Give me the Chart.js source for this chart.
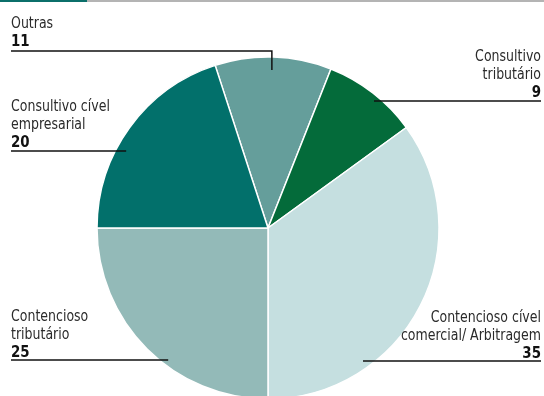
<!DOCTYPE html>
<html>
<head>
<meta charset="utf-8">
<script src="https://cdn.jsdelivr.net/npm/chart.js@4.4.1/dist/chart.umd.min.js"></script>
<style>
  html,body{margin:0;padding:0;background:#fff;overflow:hidden}
  #wrap{position:relative;width:544px;height:456px}
  #topbar{position:absolute;left:0;top:0;width:544px;height:2px;background:#b4b4b4}
  #topbar span{position:absolute;left:0;top:0;width:87px;height:2px;background:#0b6f6a}
</style>
</head>
<body>
<div id="wrap">
  <canvas id="pie" width="544" height="456"></canvas>
  <div id="topbar"><span></span></div>
</div>
<script>
// data, in drawing order clockwise from the top
const categories = ['Outras', 'Consultivo tributário', 'Contencioso cível comercial/ Arbitragem', 'Contencioso tributário', 'Consultivo cível empresarial'];
const shares = [11, 9, 35, 25, 20];
const colors = ['#659e9b', '#046b3a', '#c5dfe0', '#93bab8', '#02706b'];

// label text lines + where each label sits and where its leader touches the slice
const labelLines = [
  ['Outras'],
  ['Consultivo', 'tributário'],
  ['Contencioso cível', 'comercial/ Arbitragem'],
  ['Contencioso', 'tributário'],
  ['Consultivo cível', 'empresarial']
];
const labelLayout = [
  {x: 11,  y: 28,  align: 'left',  lineY: 51,  lineX: 11,  elbow: true, frac: 0.49, rr: 0.924},
  {x: 541, y: 61,  align: 'right', lineY: 101, lineX: 541, frac: 0.556, rr: 0.972},
  {x: 541, y: 322, align: 'right', lineY: 361, lineX: 541, frac: 0.718, rr: 0.956},
  {x: 11,  y: 321, align: 'left',  lineY: 360, lineX: 11,  frac: 0.412, rr: 0.968},
  {x: 11,  y: 111, align: 'left',  lineY: 151, lineX: 11,  frac: 0.396, rr: 0.944}
];

const FONT = '"Liberation Sans Narrow", "DejaVu Sans Condensed", "Roboto Condensed", sans-serif';
const SQUEEZE = 0.93; // condensed look for the labels

function squeezedText(ctx, txt, x, y) {
  ctx.save();
  ctx.translate(x, y);
  ctx.scale(SQUEEZE, 1);
  ctx.fillText(txt, 0, 0);
  ctx.restore();
}

const calloutPlugin = {
  id: 'callouts',
  afterDatasetsDraw(chart) {
    const ctx = chart.ctx;
    const arcs = chart.getDatasetMeta(0).data;
    ctx.save();
    arcs.forEach((arc, i) => {
      const L = labelLayout[i];
      const ang = arc.startAngle + (arc.endAngle - arc.startAngle) * L.frac;
      const r = arc.outerRadius * L.rr;
      const ex = arc.x + Math.cos(ang) * r;
      const ey = arc.y + Math.sin(ang) * r;

      // text
      ctx.fillStyle = '#2a2a2a';
      ctx.textAlign = L.align;
      ctx.textBaseline = 'alphabetic';
      ctx.font = '15px ' + FONT;
      let y = L.y;
      labelLines[i].forEach(t => { squeezedText(ctx, t, L.x, y); y += 18; });
      ctx.fillStyle = '#111';
      ctx.font = 'bold 16px ' + FONT;
      squeezedText(ctx, String(shares[i]), L.x, y);

      // leader
      ctx.strokeStyle = '#111';
      ctx.lineWidth = 1.5;
      ctx.beginPath();
      ctx.moveTo(L.lineX, L.lineY);
      ctx.lineTo(ex, L.lineY);
      if (L.elbow) ctx.lineTo(ex, ey);
      ctx.stroke();
    });
    ctx.restore();
  }
};

new Chart(document.getElementById('pie'), {
  type: 'pie',
  data: {
    labels: categories,
    datasets: [{
      data: shares,
      backgroundColor: colors,
      borderColor: '#fff',
      borderWidth: 1.5
    }]
  },
  options: {
    responsive: false,
    animation: false,
    rotation: -18,
    radius: 171,
    layout: {padding: {left: 0, right: 8, top: 0, bottom: 0}},
    plugins: {legend: {display: false}, tooltip: {enabled: false}}
  },
  plugins: [calloutPlugin]
});
</script>
</body>
</html>
